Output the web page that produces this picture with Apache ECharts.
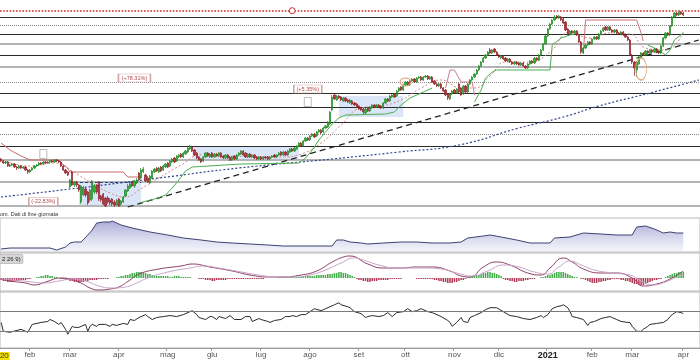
<!DOCTYPE html>
<html><head><meta charset="utf-8">
<script src="https://cdn.jsdelivr.net/npm/echarts@6.0.0/dist/echarts.min.js"></script>
<style>html,body{margin:0;padding:0;background:#fff}#c{width:700px;height:360px}</style>
</head><body><div id="c"></div>
<script>
const N = 315;
const categories = Array.from({length: N}, (_, i) => String(i));
const monthTicks = [[13,'feb'],[31,'mar'],[53,'apr'],[75,'mag'],[95,'giu'],[117,'lug'],[139,'ago'],[161,'set'],[182,'ott'],[204,'nov'],[224,'dic'],[246,'2021'],[266,'feb'],[284,'mar'],[307,'apr']];

// [open, close, low, high]
const ohlc = [
[47,45,44,48],[45,43,42,46],[43,44,42,45],[44,40,39,45],[40,41,39,42],[41,42,40,43],[42,39,38,43],[39,38,36,40],[38,40,37,41],[40,38,37,41],
[38,39,37,40],[39,36,35,40],[36,34,32,37],[34,36,33,37],[36,38,35,39],[38,40,37,41],[40,41,39,42],[41,43,40,44],[43,42,41,44],[42,44,41,45],
[44,43,42,45],[43,44,42,45],[44,45,43,46],[45,44,43,46],[44,46,43,47],[46,45,44,47],[45,44,43,46],[44,40,39,45],[40,36,35,41],[36,33,32,37],
[34,31,30,35],[19,26,17,27],[34,21,20,35],[21,24,19,25],[24,21,19,25],[21,16,14,22],[4,20,2,21],[11,18,10,20],[17,11,9,18],[14,3,1,15],
[6,16,4,17],[7,25,5,26],[14,20,12,22],[21,14,12,22],[24,7,5,25],[10,6,4,11],[12,2,1,13],[8,0,-1,9],[8,4,2,10],[6,3,1,8],
[7,2,0,8],[4,1,-1,6],[1,6,0,7],[7,0,-1,8],[2,5,0,6],[4,9,3,10],[10,16,9,17],[15,20,14,22],[18,22,17,24],[24,20,19,25],
[20,25,18,26],[23,26,22,28],[33,26,25,34],[28,36,27,38],[34,37,33,39],[31,25,24,32],[28,24,23,30],[23,30,22,31],[28,35,27,36],[34,37,33,38],
[38,35,34,39],[34,38,33,39],[39,35,34,40],[36,40,35,41],[39,42,38,43],[43,39,38,44],[40,45,39,46],[44,47,43,48],[48,44,43,49],[45,50,44,51],
[49,51,48,52],[52,49,48,53],[49,53,48,54],[52,55,51,56],[54,58,53,59],[57,60,56,61],[59,55,54,60],[56,51,50,57],[53,48,47,54],[49,46,45,50],
[47,44,43,48],[45,49,44,50],[49,53,48,54],[53,50,49,54],[49,52,48,53],[53,49,48,54],[49,52,48,53],[52,50,49,53],[50,53,49,54],[53,49,48,54],
[50,48,47,51],[48,51,47,52],[51,48,47,52],[49,46,45,50],[46,49,45,50],[50,47,46,51],[47,51,46,52],[51,53,50,54],[52,55,51,56],[55,51,50,56],
[53,49,48,54],[49,52,48,53],[52,49,48,53],[49,51,48,52],[51,48,47,52],[49,47,46,50],[47,49,46,50],[49,47,46,50],[47,49,46,50],[49,48,47,50],
[49,47,46,50],[47,49,46,50],[49,50,48,51],[51,49,48,52],[49,51,48,52],[51,53,50,54],[54,51,50,55],[51,54,50,55],[54,51,50,55],[51,55,50,56],
[54,57,53,58],[57,55,54,58],[55,58,54,59],[57,60,56,61],[60,63,59,64],[63,60,59,64],[60,65,59,66],[65,68,64,69],[68,66,65,69],[66,70,65,71],
[70,72,69,73],[72,69,68,73],[70,74,69,75],[74,76,73,77],[76,73,72,77],[74,78,73,79],[78,80,77,81],[79,84,78,85],[82,94,81,95],[96,109,95,111],
[111,107,106,112],[106,110,105,111],[110,108,107,111],[109,106,105,110],[105,108,104,109],[108,105,104,109],[106,104,103,107],[103,106,102,107],[105,102,101,106],[103,101,100,104],
[102,99,98,103],[100,97,96,101],[98,96,95,99],[97,94,92,98],[93,97,92,98],[98,95,94,99],[95,99,94,100],[98,101,97,102],[101,99,98,102],[99,101,98,102],
[101,99,98,102],[100,98,97,101],[98,103,97,104],[103,107,102,108],[107,105,104,108],[105,110,104,111],[109,111,108,112],[112,109,108,113],[110,115,109,116],[115,118,114,119],
[119,116,115,120],[116,121,115,122],[121,124,120,125],[124,121,120,125],[121,125,120,126],[125,127,124,128],[127,124,123,128],[124,128,123,129],[128,129,127,130],[129,126,125,130],
[126,129,125,130],[129,130,128,131],[130,127,126,131],[127,129,126,130],[129,124,123,130],[125,122,121,126],[122,120,119,123],[120,122,119,123],[122,118,117,123],[118,115,114,119],
[116,111,110,117],[112,108,106,113],[107,112,106,113],[112,115,111,116],[116,113,112,117],[113,117,112,118],[122,114,113,123],[118,111,110,119],[112,120,111,121],[120,114,113,121],
[114,122,113,123],[122,126,121,127],[126,129,125,130],[129,132,128,133],[132,136,131,137],[136,140,135,141],[140,144,139,145],[144,148,143,149],[148,151,147,152],[151,154,150,155],
[156,153,152,158],[153,156,152,157],[157,154,153,158],[154,151,150,155],[151,149,148,152],[148,150,147,151],[150,147,146,151],[148,145,144,149],[145,147,144,148],[147,144,143,148],
[144,142,141,145],[142,144,141,145],[144,142,141,145],[143,141,140,144],[141,143,140,144],[143,140,139,144],[140,138,137,141],[138,142,137,143],[142,145,141,146],[145,143,142,146],
[143,148,142,149],[148,146,145,149],[146,151,145,152],[151,156,150,157],[156,162,155,163],[162,170,161,171],[170,177,169,178],[177,182,176,183],[182,186,181,187],[186,189,185,191],
[190,188,187,191],[188,190,187,191],[189,186,185,190],[187,183,182,188],[184,176,175,185],[177,172,171,178],[172,175,171,176],[175,173,172,176],[173,175,172,176],[175,171,170,176],
[171,164,163,172],[164,154,152,165],[153,158,152,159],[158,161,157,162],[161,164,160,165],[164,162,161,165],[162,167,161,168],[167,169,166,170],[169,167,166,170],[167,172,166,173],
[172,175,171,176],[175,178,174,179],[179,176,175,180],[176,179,175,180],[179,176,175,180],[176,174,173,177],[174,176,173,177],[176,173,172,177],[173,172,171,174],[172,174,171,175],
[174,171,170,175],[171,169,168,172],[169,166,165,170],[166,151,150,167],[151,144,142,152],[144,138,130,145],[136,144,129,145],[142,149,141,150],[149,153,148,154],[153,151,150,154],
[151,155,150,156],[155,153,152,156],[153,156,152,157],[156,154,153,157],[154,157,153,158],[157,154,153,158],[154,153,152,155],[153,160,152,161],[160,168,159,169],[168,173,167,174],
[173,171,170,174],[171,180,170,181],[180,189,179,190],[189,193,188,194],[193,191,190,194],[191,194,190,195],[194,192,191,195],[193,191,190,194]
];

const trendLine = [[57,-1],[314,166]];
const ma200 = [[0,9],[35,18],[71,28],[107,38],[149,47],[179,54],[206,61],[233,78],[253,89],[269,100],[292,113],[314,126]];
const maShort = [[0,46],[13,40],[24,43],[31,36],[40,24],[49,13],[56,9],[62,16],[71,28],[81,41],[90,51],[103,50],[126,49],[135,52],[144,63],[153,81],[162,98],[171,100],[180,106],[189,118],[198,126],[207,118],[213,118],[220,130],[227,144],[238,144],[247,154],[256,174],[265,168],[274,173],[283,172],[290,158],[299,156],[307,174]];
const stopRed1 = [[0,63],[4,56],[9,50],[13,46],[26,46],[27,43],[30,38],[31,34],[55,34],[57,29],[63,29]];
const stopGreen1 = [[62,3],[69,7],[74,11],[77,18],[80,26],[83,35],[86,39],[108,42],[134,43],[137,48],[140,56],[143,66],[146,74],[149,82],[152,88],[155,91],[173,92],[177,94],[180,101],[184,108],[188,112],[191,115],[194,118]];
const stopRed2 = [[200,118],[202,136],[204,136],[207,124],[212,124],[213,111]];
const stopGreen2 = [[213,104],[216,116],[218,128],[221,134],[223,136],[247,136],[248,161],[252,168],[256,171],[260,173]];
const stopRed3 = [[262,153],[263,186],[286,186],[288,173],[289,165]];
const stopGreen3 = [[291,161],[294,158],[297,154],[299,151],[301,156],[303,166],[307,173]];

const levelsBlack = [188.3,172,151,112.7,98.3,83.7,60];
const levelsGray = [162.7,139.3,46.7,24.3,0];
const levelsDotted = [180.7,124,71.7];
const levelRed = 195.3;
const zones = [[[35,0],[63,24]],[[86,46],[134,59]],[[152,89],[181,110]]];
const pctLabels = [['(-22.83%)',19,4.5,29],['(+78.31%)',60,128,32],['(+5.35%)',138,117,28]];
const smallBoxes = [[19,52],[138,104]];
const ellipses = [[288,137,11,22],[182,124,11,8]];
const redMarker = [131,195.3];

const volArea = [[0,3],[4,4],[9,4],[22,4],[25,2],[29,5],[31,9],[33,10],[36,10],[39,17],[41,22],[43,29],[46,30],[49,30],[50,31],[54,27],[59,24],[67,20],[75,17],[82,14],[90,12],[97,10],[104,9],[112,8],[120,7],[127,6],[135,6],[149,6],[151,12],[154,12],[157,10],[162,9],[165,8],[172,9],[180,10],[187,10],[194,9],[202,9],[207,10],[210,14],[217,16],[220,17],[225,15],[232,12],[238,9],[247,9],[249,14],[256,15],[262,19],[270,18],[277,17],[284,17],[286,25],[290,26],[294,23],[298,19],[301,20],[304,19],[307,19]];

const macdLine = [[0,-1],[4,-3],[11,-5],[15,-7],[20,-4],[27,0],[31,-1],[36,-5],[40,-10],[44,-12],[49,-11],[53,-9],[58,-2],[62,4],[71,9],[81,12],[86,14],[94,11],[104,7],[112,3],[120,1],[127,1],[135,3],[142,7],[149,16],[154,21],[157,22],[165,14],[172,10],[180,10],[187,11],[194,11],[202,7],[207,2],[211,1],[217,11],[223,16],[229,13],[237,5],[243,3],[247,10],[253,20],[257,16],[262,9],[270,5],[277,5],[284,0],[289,-8],[295,-6],[301,-1],[307,7]];
const signalLine = [[0,-1],[6,-2],[14,-4],[19,-5],[26,-3],[32,-1],[38,-3],[44,-8],[50,-10],[56,-9],[61,-5],[66,0],[75,6],[85,10],[91,12],[98,10],[108,6],[116,3],[124,1],[131,1],[139,3],[146,8],[153,15],[159,20],[163,18],[170,13],[178,10],[190,10],[198,9],[205,5],[212,2],[219,7],[226,13],[233,11],[240,6],[246,4],[251,11],[256,17],[261,13],[267,8],[275,5],[283,3],[288,-3],[293,-7],[299,-4],[304,1],[307,3]];
const macdHist = [
-2,-3,-3,-4,-4,-4,-3,-3,-3,-2,-2,-2,-1,-1,
0,0,1,
1,2,2,3,3,2,2,1,1,
0,-1,
-1,-2,-2,-3,-3,-4,-4,-5,-4,-4,-3,-3,-2,-2,-2,
-2,-1,-1,-1,-1,-1,0,0,0,1,1,2,2,3,
3,4,5,5,6,6,6,5,5,4,4,3,3,2,2,2,
2,2,2,1,1,2,2,2,1,1,1,1,1,0,0,0,-1,
-1,-1,-2,-2,-2,-3,-3,-2,-2,-2,-2,-2,-1,-1,-1,-1,-1,-1,-1,-1,-1,-1,-1,
-1,-1,-1,-1,-1,-1,0,0,0,0,0,0,1,1,1,1,1,1,1,1,1,1,
1,2,2,2,2,2,2,3,3,3,3,3,4,4,4,5,5,6,6,5,5,4,3,2,1,
-1,-2,-2,-3,-3,-4,-4,-3,-3,-3,-2,-2,-2,-2,-2,-1,-1,-1,-1,-1,-1,
0,0,0,0,0,0,-1,-1,-1,-1,-1,-1,-1,-1,
-2,-2,-3,-3,-4,-4,-5,-5,-5,-4,-4,-3,-2,-2,-1,
1,1,2,2,3,3,4,5,5,6,6,5,5,4,3,2,
-1,-2,-2,-3,-3,-4,-4,-3,-3,-3,-2,-2,-1,
-1,-1,0,0,1,1,2,
3,3,4,5,6,6,6,6,5,4,3,2,
1,1,0,-1,-1,
-2,-3,-4,-5,-5,-5,-4,-4,-3,-3,-2,-2,
-1,-1,-1,-1,-2,-2,
-3,-3,-4,-5,-6,-6,-7,-7,-7,-6,-5,-4,-3,-2,-2,
-1,-1,0,1,
2,3,4,5,5,6,6,6
];

const rsi = [[0,26],[1,17],[4,16],[9,19],[12,16],[14,24],[18,26],[21,27],[22,29],[24,27],[26,24],[27,26],[29,19],[30,14],[32,22],[33,21],[35,21],[38,24],[39,17],[40,22],[41,24],[43,22],[44,24],[47,24],[49,22],[50,24],[52,23],[55,25],[57,24],[58,29],[60,28],[62,31],[65,34],[66,32],[68,29],[70,31],[73,32],[76,33],[79,32],[82,34],[85,37],[86,38],[88,34],[89,31],[92,29],[94,32],[95,32],[97,29],[98,32],[101,30],[103,33],[105,29],[108,29],[110,32],[112,32],[113,27],[116,30],[117,29],[120,27],[121,26],[123,28],[126,29],[128,32],[130,32],[131,33],[133,32],[135,34],[137,34],[139,37],[141,40],[144,38],[146,40],[148,42],[150,44],[152,46],[153,44],[156,42],[157,41],[159,37],[162,35],[164,31],[165,32],[167,33],[170,32],[172,33],[174,36],[176,32],[178,36],[181,37],[183,40],[185,37],[187,38],[189,40],[192,37],[194,36],[198,32],[201,28],[202,26],[203,22],[205,26],[207,31],[208,27],[210,26],[211,31],[213,33],[216,36],[218,39],[220,41],[223,41],[226,37],[229,33],[232,32],[235,30],[238,29],[241,31],[243,33],[244,31],[246,34],[247,37],[248,40],[250,42],[252,43],[253,44],[255,41],[256,37],[257,32],[259,31],[262,29],[264,23],[265,26],[267,27],[270,30],[272,31],[274,32],[275,31],[277,29],[279,27],[282,26],[283,26],[284,22],[286,17],[288,17],[289,19],[291,22],[292,24],[295,25],[298,26],[300,29],[301,32],[302,34],[304,37],[306,36],[307,35]];
const rsiLevels = [37,17];

const tickMap = {};
monthTicks.forEach(t => { tickMap[t[0]] = t[1]; });
const FONT = 'Liberation Sans';

const levelData = []
  .concat(levelsBlack.map(v => ({yAxis: v, lineStyle: {color: '#2b2b2b', width: 1.2, type: 'solid'}})))
  .concat(levelsGray.map(v => ({yAxis: v, lineStyle: {color: '#b4b4b4', width: 1.8, type: 'solid'}})))
  .concat(levelsDotted.map(v => ({yAxis: v, lineStyle: {color: '#8a8a8a', width: 1, type: 'dotted'}})))
  .concat([{yAxis: levelRed, lineStyle: {color: '#d02a2a', width: 1.6, type: 'dotted'}}])
  .concat([[{coord: [31, 24]}, {coord: [63, 24], lineStyle: {color: '#2c3e8a', width: 1.2, type: [3, 2]}}]]);

const markPts = []
  .concat(pctLabels.map(p => ({name: p[0], coord: [p[1], p[2]], symbol: 'rect', symbolSize: [p[3], 8],
      itemStyle: {color: '#fff', borderColor: '#d4a2a2', borderWidth: 0.8},
      label: {show: true, formatter: p[0], fontSize: 5.5, color: '#b04848', fontFamily: FONT}})))
  .concat(smallBoxes.map(b => ({coord: b, symbol: 'rect', symbolSize: [7, 9],
      itemStyle: {color: '#fff', borderColor: '#aaa', borderWidth: 0.8}, label: {show: false}})))
  .concat(ellipses.map(e => ({coord: [e[0], e[1]], symbol: 'path://M10,0 A10,10 0 1,1 10,20 A10,10 0 1,1 10,0 Z',
      symbolSize: [e[2], e[3]], itemStyle: {color: 'rgba(0,0,0,0)', borderColor: '#e3a57a', borderWidth: 1}, label: {show: false}})))
  .concat([{coord: redMarker, symbol: 'circle', symbolSize: 6, itemStyle: {color: '#fff', borderColor: '#d02a2a', borderWidth: 1}, label: {show: false}}]);

function stopSeries(data, color) {
  return {type: 'line', xAxisIndex: 0, yAxisIndex: 0, data: data, symbol: 'none', silent: true,
    lineStyle: {color: color, width: 1}, z: 4};
}

const xAxes = [0, 1, 2, 3].map(k => ({
  type: 'category', gridIndex: k, data: categories, boundaryGap: true, show: k === 3,
  axisLine: {show: true, lineStyle: {color: '#9a9a9a'}},
  axisTick: {show: true, interval: (i) => tickMap[i] !== undefined, length: 3, inside: false, lineStyle: {color: '#9a9a9a'}},
  axisLabel: {interval: (i) => tickMap[i] !== undefined, margin: 3, fontSize: 8, color: '#555', fontFamily: FONT,
    formatter: (v) => { const t = tickMap[Number(v)]; return t === '2021' ? '{y|2021}' : t; },
    rich: {y: {fontWeight: 'bold', fontSize: 9, color: '#222', fontFamily: FONT}}},
  splitLine: {show: false}
}));

const option = {
  animation: false,
  backgroundColor: '#fff',
  grid: [
    {left: 0, right: 0, top: 5, height: 203},
    {left: 0, right: 0, top: 218, height: 34, show: true, borderColor: '#b8b8b8', borderWidth: 1},
    {left: 0, right: 0, top: 253, height: 38, show: true, borderColor: '#b8b8b8', borderWidth: 1},
    {left: 0, right: 0, top: 292, height: 57, show: true, borderColor: '#b8b8b8', borderWidth: 1}
  ],
  xAxis: xAxes,
  yAxis: [
    {gridIndex: 0, min: -2, max: 201, show: false},
    {gridIndex: 1, min: 0, max: 34, show: false},
    {gridIndex: 2, min: -13, max: 25, show: false},
    {gridIndex: 3, min: 0, max: 57, show: false}
  ],
  graphic: [
    {type: 'text', x: 0, y: 211, style: {text: 'om. Dati di fine giornata', fontSize: 5.5, fill: '#333', fontFamily: FONT}},
    {type: 'text', x: 0, y: 255, style: {text: '2 26 9)', fontSize: 6, fill: '#222', fontFamily: FONT, backgroundColor: '#d6d6d6', borderColor: '#888', borderWidth: 0.5, padding: [1, 2]}},
    {type: 'text', x: -10, y: 352, style: {text: '2020', fontSize: 8, fill: '#333', fontFamily: FONT, backgroundColor: '#f2e200', padding: [0, 1]}}
  ],
  series: [
    {type: 'line', name: 'trend', xAxisIndex: 0, yAxisIndex: 0, data: trendLine, symbol: 'none', silent: true, z: 3,
      lineStyle: {color: '#222', width: 1.3, type: [6, 4]},
      markLine: {silent: true, symbol: ['none', 'none'], label: {show: false}, z: 1, data: levelData},
      markArea: {silent: true, z: 0, itemStyle: {color: 'rgba(205,220,245,0.75)'},
        data: zones.map(z => [{coord: z[0]}, {coord: z[1]}])}},
    {type: 'line', name: 'ma200', xAxisIndex: 0, yAxisIndex: 0, data: ma200, symbol: 'none', smooth: true, silent: true, z: 3,
      lineStyle: {color: '#34468e', width: 1.2, type: [2, 2]}},
    {type: 'line', name: 'maShort', xAxisIndex: 0, yAxisIndex: 0, data: maShort, symbol: 'none', smooth: true, silent: true, z: 3,
      lineStyle: {color: '#d48a8a', width: 1, type: [2, 2]}},
    {type: 'candlestick', name: 'price', xAxisIndex: 0, yAxisIndex: 0, data: ohlc, barWidth: 1.8, z: 5,
      itemStyle: {color: '#33b233', color0: '#c4303c', borderColor: '#1f8a24', borderColor0: '#8e1f28', borderWidth: 0.7},
      markPoint: {silent: true, z: 8, data: markPts}},
    stopSeries(stopRed1, '#c96a6a'),
    stopSeries(stopGreen1, '#4caf50'),
    stopSeries(stopRed2, '#d07a8a'),
    stopSeries(stopGreen2, '#4caf50'),
    stopSeries(stopRed3, '#cf6f72'),
    stopSeries(stopGreen3, '#4caf50'),
    {type: 'line', name: 'vol', xAxisIndex: 1, yAxisIndex: 1, data: volArea, symbol: 'none', silent: true,
      lineStyle: {color: '#3f4270', width: 1},
      areaStyle: {origin: 'start', color: {type: 'linear', x: 0, y: 0, x2: 0, y2: 1,
        colorStops: [{offset: 0, color: 'rgba(110,112,185,0.85)'}, {offset: 1, color: 'rgba(225,225,245,0.5)'}]}}},
    {type: 'bar', name: 'hist', xAxisIndex: 2, yAxisIndex: 2, data: macdHist, barWidth: 1.5, silent: true,
      itemStyle: {color: (p) => p.value >= 0 ? '#3fae49' : '#b23a57'}},
    {type: 'line', name: 'macd', xAxisIndex: 2, yAxisIndex: 2, data: macdLine, symbol: 'none', smooth: true, silent: true,
      lineStyle: {color: '#8c3f63', width: 1}},
    {type: 'line', name: 'signal', xAxisIndex: 2, yAxisIndex: 2, data: signalLine, symbol: 'none', smooth: true, silent: true,
      lineStyle: {color: '#c8a3cb', width: 1}},
    {type: 'line', name: 'rsi', xAxisIndex: 3, yAxisIndex: 3, data: rsi, symbol: 'none', silent: true,
      lineStyle: {color: '#2a2a2a', width: 1},
      markLine: {silent: true, symbol: ['none', 'none'], label: {show: false},
        data: rsiLevels.map(v => ({yAxis: v, lineStyle: {color: '#7a7a7a', width: 1, type: 'solid'}}))}}
  ]
};

const chart = echarts.init(document.getElementById('c'), null, {renderer: 'canvas'});
chart.setOption(option);
</script>
</body></html>
